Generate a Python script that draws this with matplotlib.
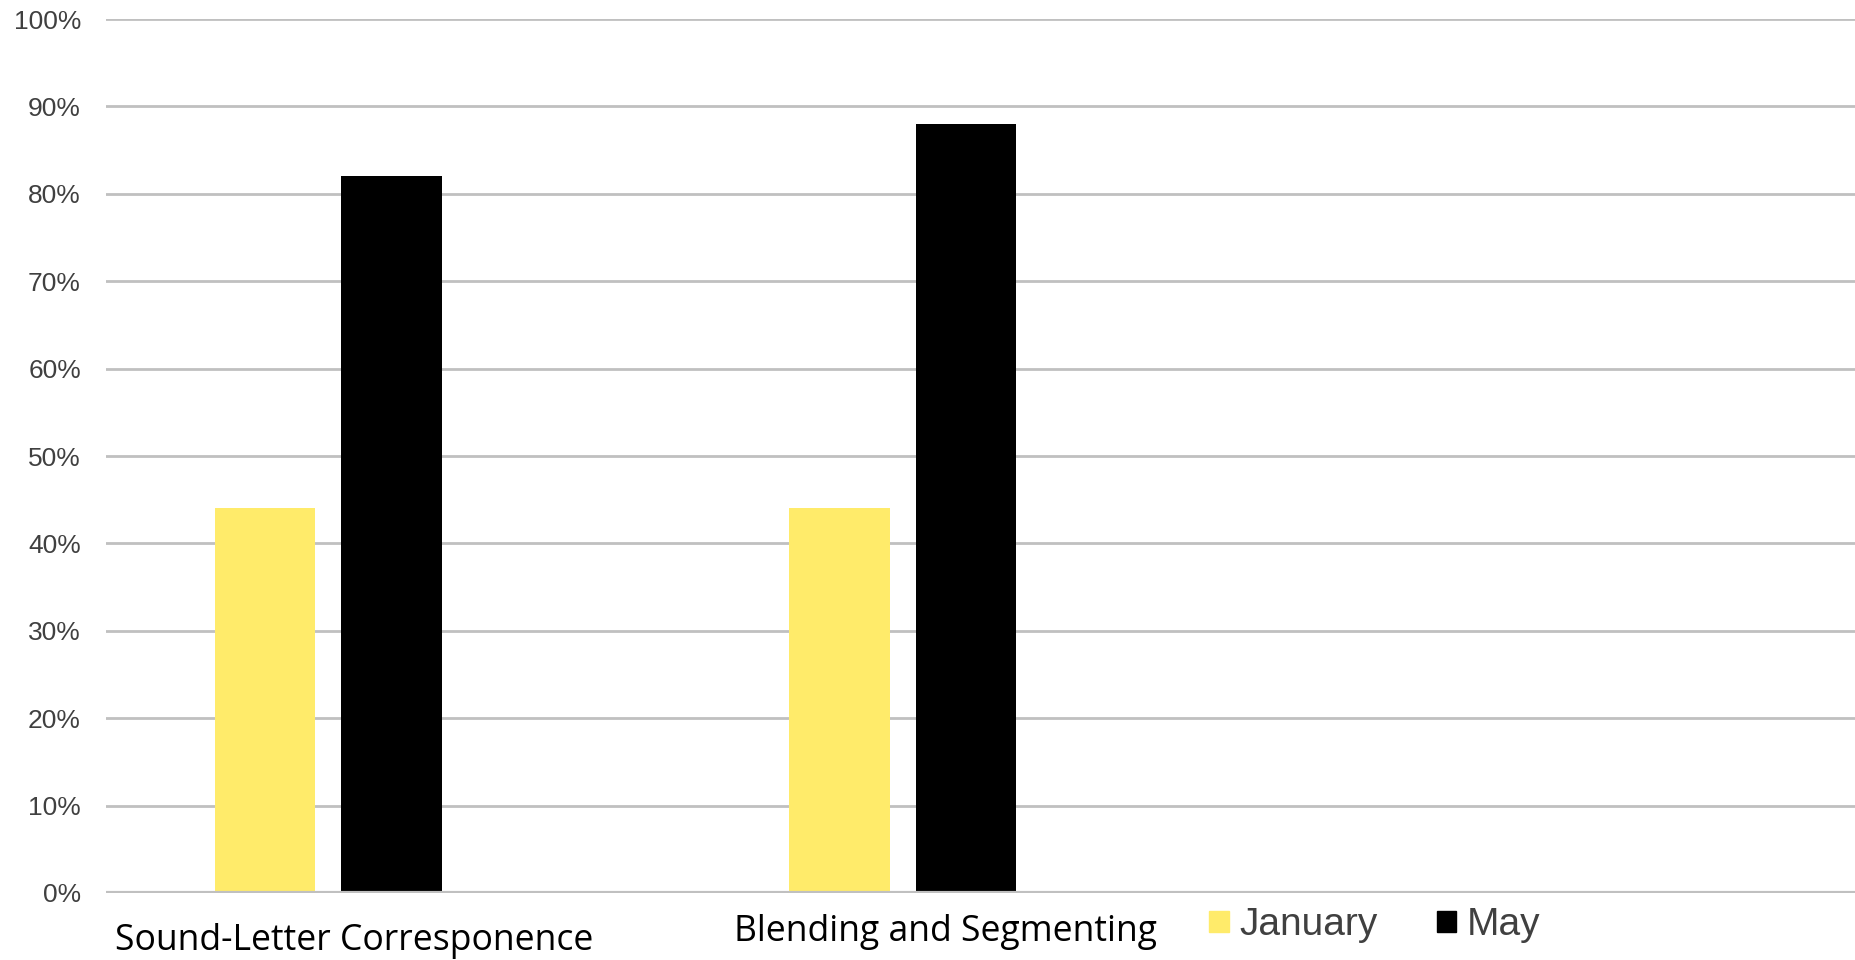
import numpy as np
import matplotlib.pyplot as plt
import matplotlib.transforms as mtransforms
from matplotlib.patches import Patch

categories = ['Sound-Letter Corresponence', 'Blending and Segmenting']
series_names = ['January', 'May']
january = [0.44, 0.44]
may = [0.82, 0.88]
colors = ['#FFEB6A', '#000000']
yticks = [0, 0.1, 0.2, 0.3, 0.4, 0.5, 0.6, 0.7, 0.8, 0.9, 1.0]
ylabels = ['0%', '10%', '20%', '30%', '40%', '50%', '60%', '70%', '80%', '90%', '100%']

fig = plt.figure(figsize=(18.55, 9.6), dpi=100)
ax = fig.add_axes([0.0571, 0.0698, 0.9429, 0.9104])

x = np.arange(len(categories))
w = 0.175
off = 0.11
ax.bar(x - off, january, w, color=colors[0], zorder=3)
ax.bar(x + off, may, w, color=colors[1], zorder=3)

ax.set_xlim(-0.387, 2.657)
ax.set_ylim(0, 1)
ax.set_yticks(yticks)
ax.set_yticklabels(ylabels, fontfamily='Liberation Sans', fontsize=19, color='#404040')
ax.tick_params(axis='y', length=0, pad=18)
ax.set_xticks([])
ax.grid(axis='y', color='#C0C0C0', linewidth=2, zorder=0)
for s in ax.spines.values():
    s.set_visible(False)
ax.axhline(0, color='#C0C0C0', linewidth=3, zorder=4)

# category labels sit at different heights in the original
trans = mtransforms.blended_transform_factory(ax.transData, fig.transFigure)
label_x = [0.045, 1.075]
label_y = [0.020, 0.029]
for cx, cy, name in zip(label_x, label_y, categories):
    ax.text(cx, cy, name, transform=trans, ha='center', va='center',
            fontfamily='Open Sans', fontsize=25.6, color='black')

handles = [Patch(color=c) for c in colors]
leg = fig.legend(handles, series_names, loc='center left', bbox_to_anchor=(0.652, 0.036),
                 ncol=2, frameon=False, borderpad=0, borderaxespad=0,
                 handlelength=0.5, handleheight=0.45, handletextpad=0.28, columnspacing=1.5,
                 prop={'family': 'Liberation Sans', 'size': 28})
for t in leg.get_texts():
    t.set_color('#404040')

fig.savefig('out.png', dpi=100)
